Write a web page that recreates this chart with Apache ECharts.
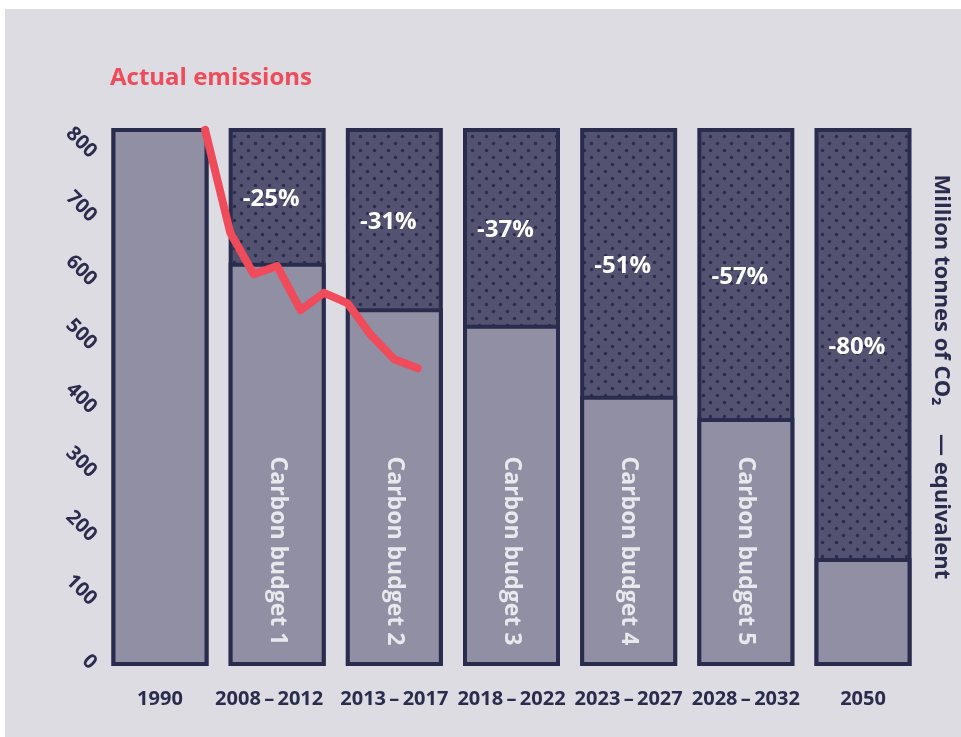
<!DOCTYPE html>
<html>
<head>
<meta charset="utf-8">
<script src="https://cdn.jsdelivr.net/npm/echarts@6/dist/echarts.min.js"></script>
<style>
  html, body { margin: 0; padding: 0; background: #ffffff; }
  #chart { width: 961px; height: 737px; }
</style>
</head>
<body>
<div id="chart"></div>
<script>
// Periods on the x axis
const periods = ['1990', '2008\u2009\u2013\u20092012', '2013\u2009\u2013\u20092017', '2018\u2009\u2013\u20092022',
                 '2023\u2009\u2013\u20092027', '2028\u2009\u2013\u20092032', '2050'];
// Average annual emissions allowed in each period (Mt CO2e); 1990 is the baseline
const budgetLevels = [842, 631, 560, 534, 423, 388, 169];
// Cut versus 1990, printed in the dotted part of each bar
const reductionLabels = ['', '-25%', '-31%', '-37%', '-51%', '-57%', '-80%'];
// Names written down the lower part of the bars
const budgetNames = ['', 'Carbon budget 1', 'Carbon budget 2', 'Carbon budget 3', 'Carbon budget 4', 'Carbon budget 5', ''];
// Recorded emissions by year (Mt CO2e)
const actualYears = [1990, 2008, 2009, 2010, 2011, 2012, 2013, 2014, 2015, 2016];
const actualValues = [839, 678, 613, 626, 557, 584, 568, 518, 480, 466];

const NAVY = '#2a2c4e';
const LOWER = '#908fa3';
const RED = '#ef4b5a';
const FONT = '"Open Sans", "DejaVu Sans", sans-serif';

// Dotted fill for the part of each bar above the budget level
function dotPattern() {
  const c = document.createElement('canvas');
  c.width = 14; c.height = 14;
  const g = c.getContext('2d');
  g.fillStyle = '#535371';
  g.fillRect(0, 0, 14, 14);
  g.fillStyle = NAVY;
  [[3.5, 3.5], [10.5, 10.5]].forEach(([x, y]) => {
    g.beginPath(); g.arc(x, y, 1.7, 0, Math.PI * 2); g.fill();
  });
  return { image: c, repeat: 'repeat' };
}

// Horizontal place of a year on the period scale (category i centred on i)
function yearPosition(year) {
  for (let i = 0; i < periods.length; i++) {
    const parts = periods[i].split('\u2013').map(s => parseInt(s.trim(), 10));
    if (parts.length === 1 && parts[0] === year) return i + 0.385; // right shoulder of the bar
    if (parts.length === 2 && year >= parts[0] && year <= parts[1]) {
      const span = parts[1] - parts[0] + 1;
      return i - 0.5 + (year - parts[0] + 0.5) / span;
    }
  }
  return null;
}

const baseline = budgetLevels[0];
const BAR_W = 97;

const chart = echarts.init(document.getElementById('chart'), null, { renderer: 'canvas' });

chart.setOption({
  backgroundColor: '#ffffff',
  animation: false,
  textStyle: { fontFamily: FONT },
  graphic: [
    { type: 'rect', z: -10, silent: true,
      shape: { x: 5, y: 9, width: 956, height: 728 },
      style: { fill: '#dddce2' } },
    { type: 'text', x: 110, y: 78,
      style: { text: 'Actual emissions', fill: RED, font: 'bold 24px ' + FONT,
               align: 'left', verticalAlign: 'middle' } },
    { type: 'text', x: 941, y: 377, rotation: -Math.PI / 2,
      style: { text: 'Million tonnes of CO\u2082     \u2014 equivalent', fill: NAVY,
               font: 'bold 22px ' + FONT, align: 'center', verticalAlign: 'middle' } }
  ],
  grid: { left: 101.4, right: 39.4, top: 128, bottom: 71, containLabel: false },
  xAxis: [
    { type: 'category', gridIndex: 0,
      data: periods.map((p, i) => (i === 1 ? { value: p, textStyle: { padding: [0, 16, 0, 0] } } : p)),
      axisLine: { show: false }, axisTick: { show: false },
      axisLabel: { color: NAVY, fontSize: 20, fontWeight: 'bold', margin: 23, interval: 0 } },
    { type: 'value', min: -0.5, max: 6.5, show: false, gridIndex: 0 }
  ],
  yAxis: [
    { type: 'value', min: 0, max: baseline, interval: 100,
      axisLine: { show: false }, axisTick: { show: false }, splitLine: { show: false },
      axisLabel: { color: NAVY, fontSize: 20, fontWeight: 'bold', rotate: -45, margin: 8,
                   formatter: v => (v % 100 === 0 ? String(v) : '') } }
  ],
  series: [
    { // full 1990-level bar, dotted
      name: 'Baseline', type: 'bar', xAxisIndex: 0, barWidth: BAR_W, barGap: '-100%',
      data: periods.map(() => baseline),
      itemStyle: { color: dotPattern(), borderColor: NAVY, borderWidth: 4 },
      silent: true, z: 2
    },
    { // budget level for each period
      name: 'Budget', type: 'bar', xAxisIndex: 0, stack: 'level', barWidth: BAR_W, barGap: '-100%',
      data: budgetLevels,
      itemStyle: { color: LOWER, borderColor: NAVY, borderWidth: 4 },
      silent: true, z: 3
    },
    { // gap up to the baseline, carrying the reduction label
      name: 'Reduction', type: 'bar', xAxisIndex: 0, stack: 'level', barWidth: BAR_W, barGap: '-100%',
      data: budgetLevels.map(v => baseline - v),
      itemStyle: { color: 'rgba(0,0,0,0)' },
      label: { show: true, position: 'inside', offset: [-6, 4], color: '#ffffff',
               fontSize: 24, fontWeight: 'bold',
               formatter: p => reductionLabels[p.dataIndex] },
      silent: true, z: 4
    },
    { // budget names written down the bars
      name: 'Names', type: 'scatter', xAxisIndex: 0, symbolSize: 1,
      itemStyle: { color: 'rgba(0,0,0,0)' },
      data: budgetNames.map((n, i) => ({ name: n, value: [i, 180] })).filter(d => d.name),
      label: { show: true, position: 'inside', rotate: -90, color: '#ffffff',
               fontSize: 23, fontWeight: 'bold', formatter: p => p.name },
      silent: true, z: 5
    },
    { // actual emissions
      name: 'Actual emissions', type: 'line', xAxisIndex: 1, showSymbol: false, symbol: 'none',
      data: actualYears.map((y, i) => [yearPosition(y), actualValues[i]]),
      lineStyle: { color: RED, width: 8, cap: 'round', join: 'round' },
      silent: true, z: 10
    }
  ]
});
</script>
</body>
</html>
